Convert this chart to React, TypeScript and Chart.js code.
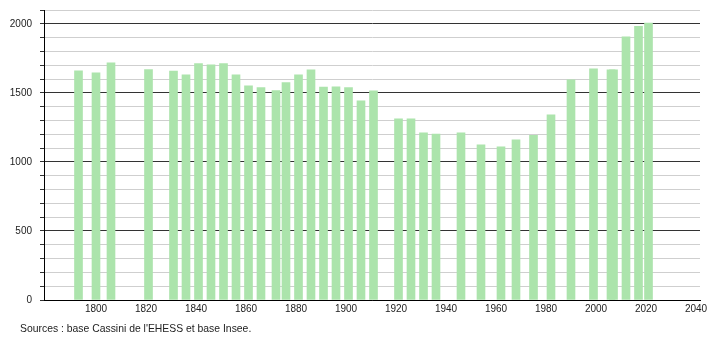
import React, { useEffect, useRef } from "react";
import { Chart, registerables } from "chart.js";

Chart.register(...registerables);

const years = [
  1793, 1800, 1806, 1821, 1831, 1836, 1841, 1846, 1851, 1856, 1861, 1866, 1872,
  1876, 1881, 1886, 1891, 1896, 1901, 1906, 1911, 1921, 1926, 1931, 1936, 1946,
  1954, 1962, 1968, 1975, 1982, 1990, 1999, 2006, 2007, 2012, 2017, 2021,
];
const population = [
  1660, 1645, 1718, 1669, 1657, 1630, 1712, 1703, 1712, 1630, 1551, 1539, 1517,
  1575, 1630, 1667, 1541, 1543, 1539, 1442, 1514, 1312, 1312, 1210, 1201, 1210,
  1123, 1109, 1159, 1193, 1341, 1594, 1674, 1667, 1667, 1906, 1981, 2006,
];
const xTickValues = [1800, 1820, 1840, 1860, 1880, 1900, 1920, 1940, 1960, 1980, 2000, 2020, 2040];
const sourceText = "Sources : base Cassini de l'EHESS et base Insee.";

const FONT = "'Liberation Sans', Arial, sans-serif";

export default function App() {
  const ref = useRef<HTMLCanvasElement | null>(null);

  useEffect(() => {
    if (!ref.current) return;
    const chart = new Chart(ref.current, {
      type: "bar",
      data: {
        datasets: [
          {
            data: years.map((y, i) => ({ x: y, y: population[i] })),
            backgroundColor: "rgb(172,228,172)",
            borderWidth: 0,
            barThickness: 8,
          },
        ],
      },
      options: {
        animation: false,
        responsive: false,
        maintainAspectRatio: false,
        layout: { padding: { top: 10, right: 10, left: 0, bottom: 0 } },
        plugins: { legend: { display: false }, tooltip: { enabled: false } },
        scales: {
          x: {
            type: "linear",
            min: 1779.2,
            max: 2041.6,
            offset: false,
            grid: { display: false, drawTicks: false },
            border: { display: true, color: "#000", width: 1 },
            afterBuildTicks: (scale: any) => {
              scale.ticks = xTickValues.map((v) => ({ value: v }));
            },
            afterFit: (scale: any) => {
              scale.height = 40;
              scale.paddingLeft = 0;
              scale.paddingRight = 0;
              scale.paddingTop = 0;
              scale.paddingBottom = 0;
            },
            ticks: {
              autoSkip: false,
              maxRotation: 0,
              padding: 3,
              color: "#222",
              font: { family: FONT, size: 10 },
              callback: (v: any) => String(v),
            },
          },
          y: {
            min: 0,
            max: 2100,
            border: { display: true, color: "#000", width: 1 },
            grid: {
              color: (ctx: any) =>
                ctx.tick && ctx.tick.value % 500 === 0 ? "#333" : "#cfcfcf",
              tickColor: "#333",
              tickLength: 4,
              drawTicks: true,
            },
            afterFit: (scale: any) => {
              scale.width = 44;
              scale.paddingTop = 0;
              scale.paddingBottom = 0;
              scale.paddingLeft = 0;
              scale.paddingRight = 0;
            },
            ticks: {
              stepSize: 100,
              autoSkip: false,
              padding: 8,
              color: "#222",
              font: { family: FONT, size: 10 },
              callback: (v: any) => (Number(v) % 500 === 0 ? String(v) : ""),
            },
          },
        },
      },
    });
    return () => chart.destroy();
  }, []);

  return (
    <div style={{ position: "absolute", left: 0, top: 0, width: 710, height: 340, background: "#fff" }}>
      <canvas ref={ref} width={710} height={340} style={{ display: "block" }} />
      <div
        style={{
          position: "absolute",
          left: 20,
          top: 322,
          fontFamily: FONT,
          fontSize: 10.4,
          lineHeight: "14px",
          color: "#222",
          whiteSpace: "nowrap",
        }}
      >
        {sourceText}
      </div>
    </div>
  );
}
